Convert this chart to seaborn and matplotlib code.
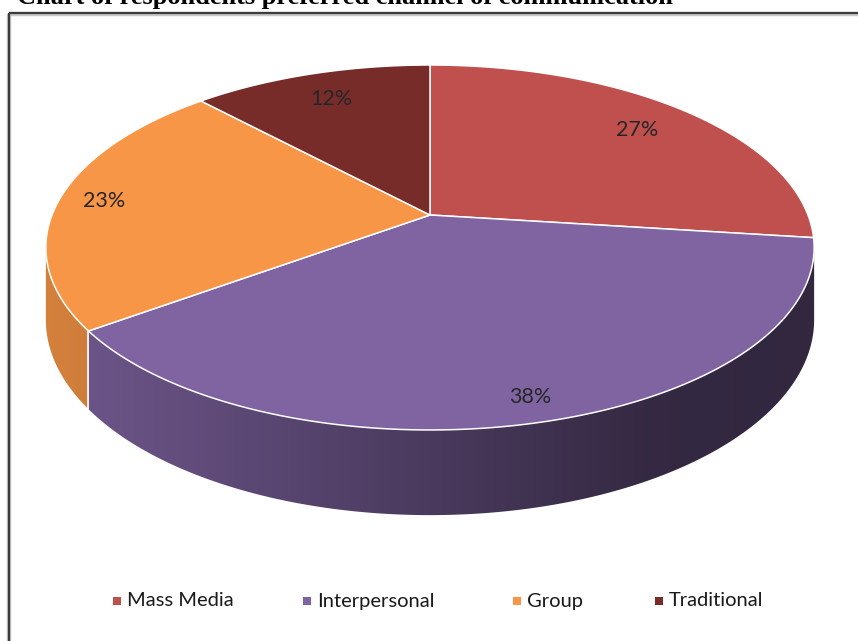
import numpy as np
import matplotlib
matplotlib.use("Agg")
import matplotlib.pyplot as plt
import seaborn as sns
from matplotlib.patches import Polygon
from matplotlib.colors import to_rgb

# Chart data
categories = ["Mass Media", "Interpersonal", "Group", "Traditional"]
shares = [27, 38, 23, 12]
pct_labels = ["27%", "38%", "23%", "12%"]
slice_colors = ["#C0504D", "#8064A2", "#F79646", "#772C2A"]
title_text = "Chart of respondents preferred channel of communication"

sns.set_theme(style="white")
plt.rcParams["font.family"] = ["Lato", "DejaVu Sans"]
palette = sns.color_palette(slice_colors)

W, H = 858, 641
fig = plt.figure(figsize=(W / 100, H / 100), dpi=100)
ax = fig.add_axes([0, 0, 1, 1])
ax.set_xlim(0, W)
ax.set_ylim(H, 0)
ax.axis("off")

# Tilted, perspective-projected pie disc
cx, cy = 430.0, 215.0
rx, ry = 378.0, 176.7
persp = 0.178
depth = 70.0


def project(r, theta):
    u = r * np.cos(theta)
    v = r * np.sin(theta)
    s = 1.0 / (1.0 + persp * v)
    return cx + rx * u * s, cy - ry * v * s, s


def side_shade(x):
    # brightness of the rim: lighter on the left, darker toward the right
    return np.interp(x, [40, 100, 430, 650, 820], [0.86, 0.83, 0.58, 0.41, 0.39])


total = float(sum(shares))
bounds = 90.0 - 360.0 * np.concatenate([[0], np.cumsum(shares)]) / total
# visible part of the rim lies where sin(theta) <= -persp
vis_hi = -np.degrees(np.arcsin(persp))
vis_lo = -180.0 - vis_hi

# rim (side) faces, each filled with a horizontal shading ramp
for i, col in enumerate(palette):
    a0, a1 = bounds[i], bounds[i + 1]  # a0 > a1 (clockwise)
    for shift in (0.0, 360.0, -360.0):
        lo = max(a1 + shift, vis_lo)
        hi = min(a0 + shift, vis_hi)
        if hi <= lo:
            continue
        th = np.radians(np.linspace(lo, hi, 300))
        xt, yt, s = project(1.0, th)
        yb = yt + depth * s
        pts = np.vstack([np.column_stack([xt, yt]),
                         np.column_stack([xt[::-1], yb[::-1]])])
        patch = Polygon(pts, closed=True, facecolor="none", edgecolor="none", zorder=2)
        ax.add_patch(patch)
        x0, x1 = xt.min() - 2, xt.max() + 2
        gx = np.linspace(x0, x1, 400)
        base = np.array(to_rgb(col))
        ramp = np.clip(base[None, :] * side_shade(gx)[:, None], 0, 1)[None, :, :]
        y0, y1 = yt.min() - 2, yb.max() + 2
        im = ax.imshow(ramp, extent=(x0, x1, y1, y0), aspect="auto",
                       interpolation="bilinear", zorder=2)
        im.set_clip_path(patch)

# white seams where two slices meet on the rim
for b in bounds[:-1]:
    bb = ((b + 180.0) % 360.0) - 180.0
    if vis_lo < bb < vis_hi:
        xt, yt, s = project(1.0, np.radians(bb))
        ax.plot([xt, xt], [yt, yt + depth * s], color="white", lw=1.2, zorder=3)

# top faces
for i, col in enumerate(palette):
    th = np.radians(np.linspace(bounds[i], bounds[i + 1], 300))
    xs, ys, _ = project(1.0, th)
    pts = np.vstack([[cx, cy], np.column_stack([xs, ys])])
    ax.add_patch(Polygon(pts, closed=True, facecolor=col, edgecolor="white",
                         lw=1.1, joinstyle="round", zorder=4))

# percentage labels
label_r = [0.80, 0.90, 0.88, 0.80]
for i, txt in enumerate(pct_labels):
    mid = np.radians(0.5 * (bounds[i] + bounds[i + 1]))
    lx, ly, _ = project(label_r[i], mid)
    ax.text(lx, ly, txt, ha="center", va="center", fontsize=15.5,
            color="#262626", zorder=6)

# legend row
legend_x = [117, 307, 517, 659]
legend_y = 601
for x0, name, col in zip(legend_x, categories, palette):
    ax.scatter([x0], [legend_y], marker="s", s=30, color=col, zorder=6, linewidths=0)
    ax.text(x0 + 10, legend_y, name, ha="left", va="center", fontsize=14.5,
            color="#1a1a1a", zorder=6)

# chart frame (open on the right and bottom edges)
ax.plot([9, W + 5], [14, 14], color="#c8c8c8", lw=3.2, solid_capstyle="butt", zorder=7)
ax.plot([9, 9], [14, H + 5], color="#c8c8c8", lw=3.2, solid_capstyle="butt", zorder=7)
ax.plot([9, W + 5], [13.3, 13.3], color="#3c3c3c", lw=1.6, solid_capstyle="butt", zorder=8)
ax.plot([8.5, 8.5], [13, H + 5], color="#3c3c3c", lw=1.6, solid_capstyle="butt", zorder=8)

# caption above the frame, fitted to its printed width
t = fig.text(17 / W, 1 - 4 / H, title_text, ha="left", va="baseline",
             fontsize=16, fontweight="bold", color="black",
             family=["Liberation Serif", "DejaVu Serif"])
fig.canvas.draw()
bb = t.get_window_extent()
t.set_fontsize(16 * 660.0 / bb.width)

fig.savefig("out.png", dpi=100, facecolor="white")
